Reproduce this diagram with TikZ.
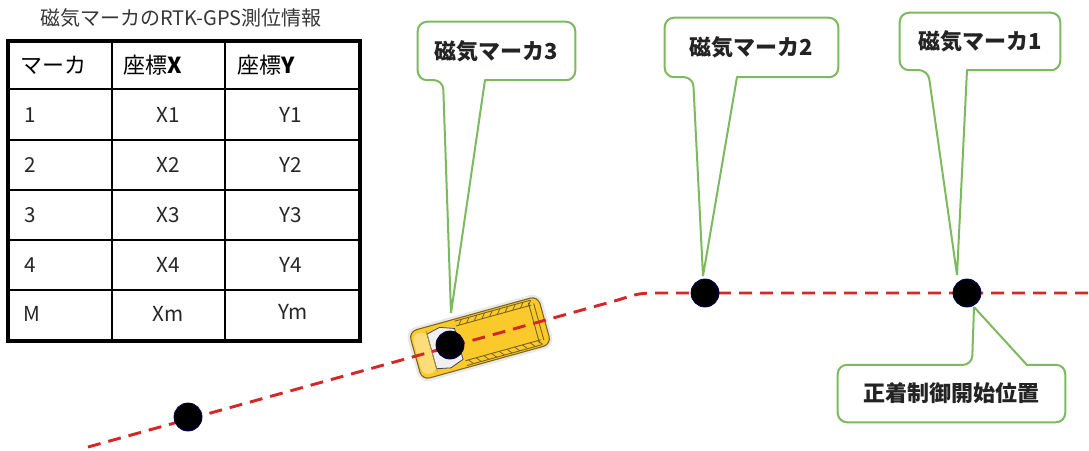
\documentclass[tikz,border=0pt]{standalone}
\usepackage{fontspec}
\newfontfamily\jp{Noto Sans CJK JP}
\definecolor{calloutgreen}{RGB}{125,185,95}
\definecolor{routered}{RGB}{212,40,40}
\definecolor{vanyellow}{RGB}{250,202,45}
\definecolor{vanedge}{RGB}{125,100,30}
\definecolor{titlegrey}{RGB}{55,55,55}
\definecolor{labeltext}{RGB}{35,35,35}

\begin{document}
\begin{tikzpicture}[x=0.75pt,y=-0.75pt,
  cell/.style={inner sep=0pt, text=black!85, font=\jp\fontsize{15.5}{18}\selectfont},
  headcell/.style={inner sep=0pt, text=black, font=\jp\fontsize{16.5}{19}\selectfont},
  callbox/.style={inner sep=0pt, text=labeltext, font=\jp\bfseries\fontsize{16.5}{19}\selectfont},
  callout/.style={draw=calloutgreen, fill=white, line width=1.5pt, line join=round},
  marker/.style={circle, fill=black, draw=blue!35!black, line width=0.6pt, minimum size=21pt, inner sep=0pt},
  route/.style={draw=routered, line width=2.2pt, dash pattern=on 9.75pt off 6pt}]

\useasboundingbox[fill=white] (0,0) rectangle (1089,450);

% ---------- title and table ----------
\node[text=titlegrey, font=\jp\fontsize{15}{17}\selectfont, inner sep=0pt] (title) at (181,18) {磁気マーカのRTK-GPS測位情報};

\draw[line width=1.5pt] (8,89) -- (360,89) (8,140) -- (360,140) (8,190) -- (360,190)
  (8,240) -- (360,240) (8,290) -- (360,290) (112,41) -- (112,341) (225,41) -- (225,341);
\draw[line width=2.4pt] (8,41) rectangle (360,341);

\node[headcell, anchor=west] (h1) at (20,65) {マーカ};
\node[headcell, anchor=west] (h2) at (123,65) {座標\textbf{X}};
\node[headcell, anchor=west] (h3) at (237,65) {座標\textbf{Y}};

\node[cell, anchor=west] (r1) at (24,115) {1};
\node[cell, anchor=west] (r2) at (24,165) {2};
\node[cell, anchor=west] (r3) at (24,215) {3};
\node[cell, anchor=west] (r4) at (24,265) {4};
\node[cell, anchor=west] (r5) at (23,314) {M};
\node[cell] (x1) at (168,115) {X1};
\node[cell] (x2) at (168,165) {X2};
\node[cell] (x3) at (168,215) {X3};
\node[cell] (x4) at (168,265) {X4};
\node[cell] (x5) at (168,314) {Xm};
\node[cell] (y1) at (291,115) {Y1};
\node[cell] (y2) at (291,165) {Y2};
\node[cell] (y3) at (291,215) {Y3};
\node[cell] (y4) at (291,265) {Y4};
\node[cell] (y5) at (293,312) {Ym};

% ---------- van seen from above ----------
\begin{scope}[shift={(480,338)}, rotate=15.5]
  \fill[gray!18, rounded corners=8pt] (-70,-28) rectangle (70,28);
  \filldraw[fill=vanyellow, draw=vanedge, line width=0.8pt, rounded corners=6pt] (-67,-25) rectangle (67,25);
  \fill[vanyellow!65!white, rounded corners=5pt] (-65,-21) rectangle (-50,21);
  \filldraw[fill=gray!12, draw=gray!55!black, line width=0.6pt]
    (-50,-18) -- (-36,-21) -- (-22,-16) -- (-22,16) -- (-36,21) -- (-50,18) -- cycle;
  \foreach \s in {-1,1} {
    \draw[vanedge, line width=0.7pt] (-20,18*\s) -- (58,18*\s) (-20,23*\s) -- (58,23*\s);
    \foreach \x in {-17,-9,...,55}
      \draw[vanedge, line width=0.6pt] (\x,18*\s) -- (\x+4,23*\s);
  }
  \draw[vanedge, line width=0.7pt] (56,-21) -- (56,21) (61,-19) -- (61,19);
  \draw[vanedge!70, line width=0.5pt] (-50,-21) -- (-50,21);
\end{scope}

% ---------- route ----------
\coordinate (start) at (88,447);
\coordinate (bendA) at (618,300);
\coordinate (bendC) at (640,293);
\coordinate (bendB) at (662,293);
\coordinate (fin) at (1089,293);
\draw[route] (start) -- (bendA) .. controls (bendC) .. (bendB) -- (fin);

% ---------- magnetic markers ----------
\node[marker] (m4) at (188,417) {};
\node[marker] (m3) at (450,345) {};
\node[marker] (m2) at (705,293) {};
\node[marker] (m1) at (967,293) {};

% ---------- callouts ----------
\node[callbox, minimum width=117.75pt, minimum height=43.5pt] (c3) at (496.5,51) {磁気マーカ3};
\node[callbox, minimum width=129.75pt, minimum height=44.25pt] (c2) at (751.5,47.5) {磁気マーカ2};
\node[callbox, minimum width=120pt, minimum height=42.75pt] (c1) at (980,41.5) {磁気マーカ1};
\node[callbox, minimum width=170.25pt, minimum height=42.75pt] (c0) at (951.5,393.5) {正着制御開始位置};

\coordinate (t3) at (451,313);
\coordinate (t2) at (703,276);
\coordinate (t1) at (957,275);
\coordinate (t0) at (974,307);

\path[callout] (t3) -- (485,80) [rounded corners=7pt] -- (c3.south east) -- (c3.north east)
  -- (c3.north west) -- (c3.south west) -- (443,80) [sharp corners] -- (t3);
\path[callout] (t2) -- (737,77) [rounded corners=7pt] -- (c2.south east) -- (c2.north east)
  -- (c2.north west) -- (c2.south west) -- (693,77) [sharp corners] -- (t2);
\path[callout] (t1) -- (967,70) [rounded corners=7pt] -- (c1.south east) -- (c1.north east)
  -- (c1.north west) -- (c1.south west) -- (928,70) [sharp corners] -- (t1);
\path[callout] (t0) -- (1027,365) [rounded corners=7pt] -- (c0.north east) -- (c0.south east)
  -- (c0.south west) -- (c0.north west) -- (972,365) [sharp corners] -- (t0);

\node[callbox] at (c3) {磁気マーカ3};
\node[callbox] at (c2) {磁気マーカ2};
\node[callbox] at (c1) {磁気マーカ1};
\node[callbox] at (c0) {正着制御開始位置};
\end{tikzpicture}
\end{document}
